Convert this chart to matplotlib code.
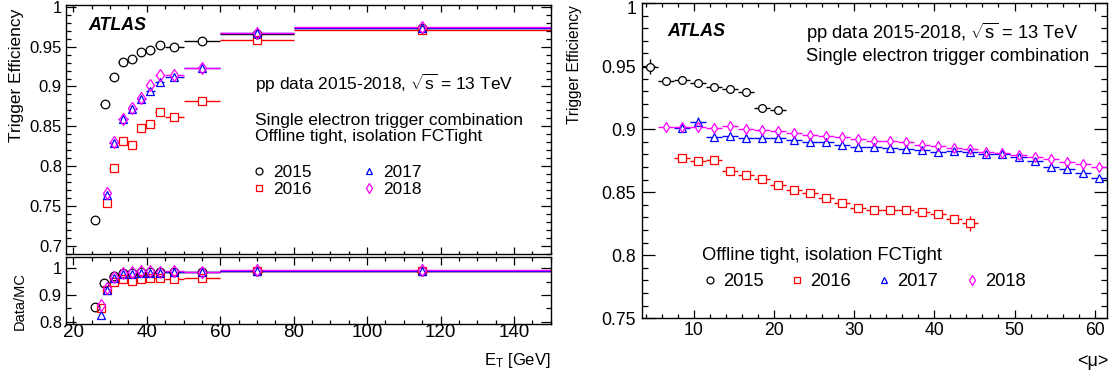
import numpy as np
import matplotlib
matplotlib.use("Agg")
import matplotlib.pyplot as plt
from matplotlib.ticker import MultipleLocator, FuncFormatter
from matplotlib.lines import Line2D

plt.rcParams['font.family'] = ['Liberation Sans', 'DejaVu Sans']
plt.rcParams['mathtext.fontset'] = 'custom'
plt.rcParams['mathtext.rm'] = 'Liberation Sans'
plt.rcParams['mathtext.it'] = 'Liberation Sans:italic'
plt.rcParams['mathtext.bf'] = 'Liberation Sans:bold'

# ---------------- data: left panel (efficiency vs E_T) ----------------
years = ["2015", "2016", "2017", "2018"]
colors = ["#000000", "#ff0000", "#0000ff", "#ff00ff"]
markers = ["o", "s", "^", "d"]

et_2015 = [26, 28.5, 31, 33.5, 36, 38.5, 41, 43.5, 47.5, 55, 70, 115]
et_2015_err = [1.0, 1.25, 1.25, 1.25, 1.25, 1.25, 1.25, 1.25, 2.5, 5, 10, 35]
et_late = [29.1, 31, 33.5, 36, 38.5, 41, 43.5, 47.5, 55, 70, 115]
et_late_err = [0.9, 1.25, 1.25, 1.25, 1.25, 1.25, 1.25, 2.5, 5, 10, 35]

eff_et_2015 = [0.732, 0.878, 0.912, 0.931, 0.934, 0.943, 0.946, 0.952, 0.950, 0.957, 0.966, 0.973]
eff_et_2016 = [0.754, 0.798, 0.832, 0.827, 0.848, 0.853, 0.868, 0.862, 0.882, 0.958, 0.971]
eff_et_2017 = [0.764, 0.829, 0.859, 0.872, 0.884, 0.894, 0.905, 0.912, 0.923, 0.967, 0.973]
eff_et_2018 = [0.766, 0.830, 0.859, 0.873, 0.885, 0.902, 0.915, 0.915, 0.923, 0.967, 0.975]

# ratio panel
et_ratio_2015 = [26, 28.4, 31, 33.5, 36, 38.5, 41, 43.5, 47.5, 55, 70, 115]
et_ratio_late = [27.5, 29.1, 31, 33.5, 36, 38.5, 41, 43.5, 47.5, 55, 70, 115]
et_ratio_err_2015 = [1.0, 1.25, 1.25, 1.25, 1.25, 1.25, 1.25, 1.25, 2.5, 5, 10, 35]
et_ratio_err_late = [0.6, 0.9, 1.25, 1.25, 1.25, 1.25, 1.25, 1.25, 2.5, 5, 10, 35]
ratio_2015 = [0.856, 0.946, 0.970, 0.981, 0.984, 0.985, 0.987, 0.987, 0.987, 0.987, 0.990, 0.990]
ratio_2016 = [0.853, 0.919, 0.950, 0.959, 0.954, 0.959, 0.965, 0.965, 0.959, 0.963, 0.990, 0.990]
ratio_2017 = [0.825, 0.919, 0.962, 0.977, 0.979, 0.981, 0.981, 0.984, 0.985, 0.985, 0.990, 0.990]
ratio_2018 = [0.862, 0.925, 0.969, 0.984, 0.985, 0.990, 0.990, 0.987, 0.990, 0.987, 0.992, 0.992]

# ---------------- data: right panel (efficiency vs <mu>) ----------------
mu_2015 = [4.5, 6.5, 8.5, 10.5, 12.5, 14.5, 16.5, 18.5, 20.5]
mu_2016 = [8.5, 10.5, 12.5, 14.5, 16.5, 18.5, 20.5, 22.5, 24.5, 26.5, 28.5, 30.5,
           32.5, 34.5, 36.5, 38.5, 40.5, 42.5, 44.5]
mu_2017 = [8.5, 10.5, 12.5, 14.5, 16.5, 18.5, 20.5, 22.5, 24.5, 26.5, 28.5, 30.5,
           32.5, 34.5, 36.5, 38.5, 40.5, 42.5, 44.5, 46.5, 48.5, 50.5, 52.5, 54.5,
           56.5, 58.5, 60.5]
mu_2018 = [6.5, 8.5, 10.5, 12.5, 14.5, 16.5, 18.5, 20.5, 22.5, 24.5, 26.5, 28.5,
           30.5, 32.5, 34.5, 36.5, 38.5, 40.5, 42.5, 44.5, 46.5, 48.5, 50.5, 52.5,
           54.5, 56.5, 58.5, 60.5]
mu_halfwidth = 1.0

eff_mu_2015 = [0.9495, 0.938, 0.9387, 0.9366, 0.9337, 0.932, 0.9295, 0.9166, 0.915]
err_mu_2015 = [0.006, 0.003, 0.002, 0.002, 0.002, 0.002, 0.002, 0.003, 0.003]
eff_mu_2016 = [0.8771, 0.875, 0.8755, 0.8671, 0.864, 0.8605, 0.856, 0.8521, 0.8492,
               0.8455, 0.8413, 0.8376, 0.836, 0.8355, 0.8355, 0.8342, 0.8329, 0.8289,
               0.8255]
err_mu_2016 = [0.001] * 17 + [0.002, 0.006]
eff_mu_2017 = [0.9005, 0.9053, 0.8934, 0.8947, 0.8926, 0.8926, 0.8926, 0.8913, 0.8895,
               0.8895, 0.8876, 0.886, 0.8855, 0.8847, 0.8842, 0.8834, 0.8821, 0.8829,
               0.8816, 0.8803, 0.8803, 0.8782, 0.875, 0.8703, 0.8684, 0.8653, 0.8611]
err_mu_2017 = [0.003, 0.004] + [0.001] * 25
eff_mu_2018 = [0.9013, 0.9013, 0.9018, 0.9008, 0.9021, 0.900, 0.8992, 0.8982, 0.8966,
               0.8953, 0.8947, 0.8934, 0.8921, 0.8908, 0.8908, 0.8895, 0.8876, 0.8863,
               0.8847, 0.8842, 0.8816, 0.8808, 0.8797, 0.8776, 0.8763, 0.8742, 0.8724,
               0.8697]
err_mu_2018 = [0.001] * 28

# ---------------- figure ----------------
W, H = 1115, 378
fig = plt.figure(figsize=(W / 100, H / 100), dpi=100)


def rect(x0, y0, x1, y1):
    return [x0 / W, 1 - y1 / H, (x1 - x0) / W, (y1 - y0) / H]


def fx(x):
    return x / W


def fy(y):
    return 1 - y / H


ax1 = fig.add_axes(rect(66, 5, 550.7, 254.3))
ax2 = fig.add_axes(rect(66, 257.3, 550.7, 323.7))
ax3 = fig.add_axes(rect(641.7, 3, 1106.7, 318.3))

fmt = FuncFormatter(lambda v, p: f"{v:g}")
fmt_no_top = FuncFormatter(lambda v, p: "" if abs(v - 1.0) < 1e-9 else f"{v:g}")


def style(ax, xmaj, xmin, ymaj, ymin, lx, ly, xfs, yfs, xpad, ypad):
    for s in ax.spines.values():
        s.set_linewidth(1.0)
        s.set_color("black")
    ax.xaxis.set_major_locator(MultipleLocator(xmaj))
    ax.xaxis.set_minor_locator(MultipleLocator(xmin))
    ax.yaxis.set_major_locator(MultipleLocator(ymaj))
    ax.yaxis.set_minor_locator(MultipleLocator(ymin))
    ax.xaxis.set_major_formatter(fmt)
    ax.yaxis.set_major_formatter(fmt)
    ax.tick_params(which="both", direction="in", top=True, right=True,
                   width=0.9, color="black")
    ax.tick_params(axis="x", which="major", length=lx[0] * 0.72, pad=xpad, labelsize=xfs)
    ax.tick_params(axis="x", which="minor", length=lx[1] * 0.72)
    ax.tick_params(axis="y", which="major", length=ly[0] * 0.72, pad=ypad, labelsize=yfs)
    ax.tick_params(axis="y", which="minor", length=ly[1] * 0.72)


def draw(ax, x, y, xerr, yerr, color, marker, ms):
    ax.errorbar(x, y, xerr=xerr, yerr=yerr, fmt="none", ecolor=color,
                elinewidth=1.0, capsize=0, zorder=2)
    ax.plot(x, y, ls="none", marker=marker, ms=ms, mfc="white", mec="none", zorder=3)
    ax.plot(x, y, ls="none", marker=marker, ms=ms, mfc="none", mec=color,
            mew=0.9, zorder=4)


# left top
ax1.set_xlim(18, 150)
ax1.set_ylim(0.689, 1.0024)
style(ax1, 20, 5, 0.05, 0.01, (7, 3.5), (10, 5), 13.5, 12, 1, 2.9)
ax1.tick_params(labelbottom=False)
eff_et = [eff_et_2015, eff_et_2016, eff_et_2017, eff_et_2018]
for i in range(4):
    xs = et_2015 if i == 0 else et_late
    xe = et_2015_err if i == 0 else et_late_err
    draw(ax1, xs, eff_et[i], xe, None, colors[i], markers[i], 6.2)

# left bottom (ratio)
ax2.set_xlim(18, 150)
ax2.set_ylim(0.7925, 1.041)
style(ax2, 20, 5, 0.1, 0.05, (8, 4), (10, 5), 13.5, 12, 0.3, 2.9)
ratios = [ratio_2015, ratio_2016, ratio_2017, ratio_2018]
for i in range(4):
    xs = et_ratio_2015 if i == 0 else et_ratio_late
    xe = et_ratio_err_2015 if i == 0 else et_ratio_err_late
    draw(ax2, xs, ratios[i], xe, None, colors[i], markers[i], 6.2)

# right
ax3.set_xlim(3.5, 61.5)
ax3.set_ylim(0.75, 1.0)
style(ax3, 10, 2, 0.05, 0.01, (8, 4), (13, 6), 12.7, 12.7, 2.4, 4.0)
ax3.yaxis.set_major_formatter(fmt_no_top)
mus = [mu_2015, mu_2016, mu_2017, mu_2018]
effs = [eff_mu_2015, eff_mu_2016, eff_mu_2017, eff_mu_2018]
errs = [err_mu_2015, err_mu_2016, err_mu_2017, err_mu_2018]
for i in range(4):
    draw(ax3, mus[i], effs[i], mu_halfwidth, errs[i], colors[i], markers[i], 5.6)
# top tick label of the right panel, kept inside the picture
fig.text(fx(636), fy(0.5), "1", ha="right", va="top", fontsize=12.7)


# legends
def handles(ms):
    return [Line2D([], [], ls="none", marker=markers[i], ms=ms, mfc="none",
                   mec=colors[i], mew=0.9) for i in range(4)]


ax1.legend(handles(5.0), years, ncol=2, loc="upper left",
           bbox_to_anchor=(fx(252), fy(164.5)), bbox_transform=fig.transFigure,
           frameon=False, borderpad=0, borderaxespad=0, handlelength=0.8,
           handletextpad=0.4, columnspacing=2.95, labelspacing=0.12, fontsize=12.4)
ax3.legend(handles(5.0), years, ncol=4, loc="upper left",
           bbox_to_anchor=(fx(703), fy(273.5)), bbox_transform=fig.transFigure,
           frameon=False, borderpad=0, borderaxespad=0, handlelength=0.75,
           handletextpad=0.35, columnspacing=1.44, fontsize=13.2)

# texts left
fig.text(fx(88), fy(26), "ATLAS", weight="bold", style="italic", fontsize=12.8, va="center")
fig.text(fx(255), fy(83.3), r"pp data 2015-2018, $\sqrt{\mathrm{s}}$ = 13 TeV",
         fontsize=12.5, va="center")
fig.text(fx(255), fy(120), "Single electron trigger combination", fontsize=12.5, va="center")
fig.text(fx(255), fy(136.5), "Offline tight, isolation FCTight", fontsize=12.5, va="center")

# texts right
fig.text(fx(667), fy(31.7), "ATLAS", weight="bold", style="italic", fontsize=12.8, va="center")
fig.text(fx(806), fy(33.3), r"pp data 2015-2018, $\sqrt{\mathrm{s}}$ = 13 TeV",
         fontsize=13.2, va="center")
fig.text(fx(806), fy(56.7), "Single electron trigger combination", fontsize=13.2, va="center")
fig.text(fx(701.7), fy(255.7), "Offline tight, isolation FCTight", fontsize=13.2, va="center")

# axis titles
fig.text(fx(17), fy(9), "Trigger Efficiency", rotation=90, ha="center", va="top", fontsize=12.5)
fig.text(fx(20), fy(301), "Data/MC", rotation=90, ha="center", va="center", fontsize=10.5)
fig.text(fx(575), fy(5), "Trigger Efficiency", rotation=90, ha="center", va="top", fontsize=11.2)
fig.text(fx(551), fy(360), r"E$_{\mathrm{T}}$ [GeV]", ha="right", va="center", fontsize=12)
fig.text(fx(1108), fy(361.7), "<μ>", ha="right", va="center", fontsize=13)

fig.savefig("out.png", dpi=100)
